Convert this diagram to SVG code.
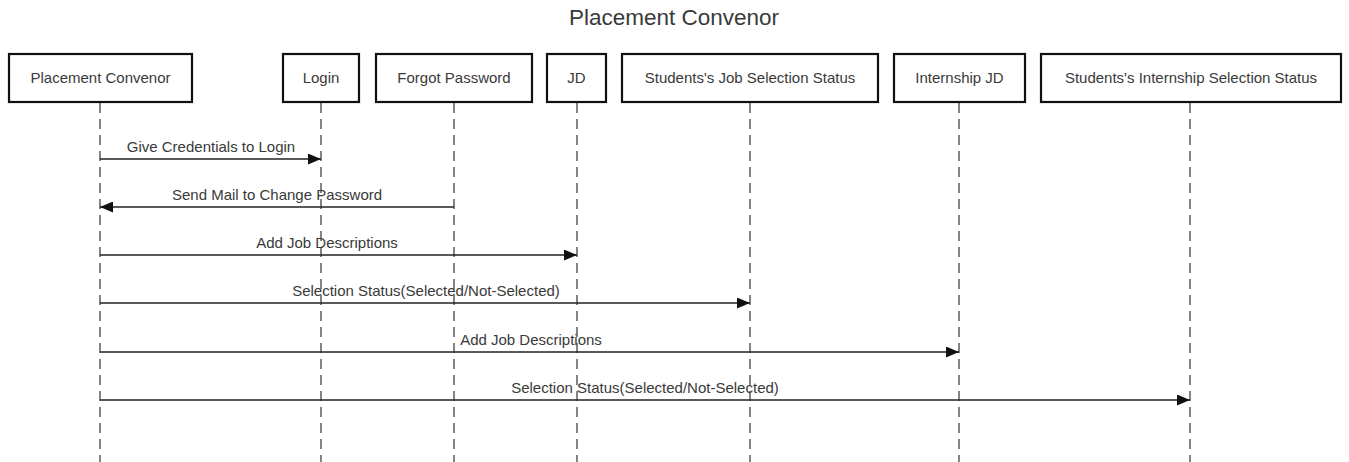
<svg xmlns="http://www.w3.org/2000/svg" width="1349" height="462" viewBox="0 0 1349 462">
<style>
.box{fill:#fff;stroke:#111;stroke-width:2.2}
.lbl{font-family:"Liberation Sans",Arial,sans-serif;font-size:15px;fill:#3a3a3a;text-anchor:middle}
.life{stroke:#444;stroke-width:1.3;stroke-dasharray:10,6;fill:none}
.msg{stroke:#222;stroke-width:1.4;fill:none;marker-end:url(#ah)}
</style>
<defs>
<marker id="ah" viewBox="0 0 13 11" refX="13" refY="5.5" markerWidth="13" markerHeight="11" markerUnits="userSpaceOnUse" orient="auto">
<path d="M0,0 L13,5.5 L0,11 Z" fill="#111"/>
</marker>
</defs>
<rect width="1349" height="462" fill="#fff"/>
<text x="674" y="25" class="lbl" style="font-size:22.5px">Placement Convenor</text>
<g id="lifelines">
<line class="life" x1="100" y1="103" x2="100" y2="462"/>
<line class="life" x1="321" y1="103" x2="321" y2="462"/>
<line class="life" x1="454" y1="103" x2="454" y2="462"/>
<line class="life" x1="577" y1="103" x2="577" y2="462"/>
<line class="life" x1="750" y1="103" x2="750" y2="462"/>
<line class="life" x1="959" y1="103" x2="959" y2="462"/>
<line class="life" x1="1190" y1="103" x2="1190" y2="462"/>
</g>
<g id="n-convenor"><rect class="box" x="9" y="54" width="183" height="48"/><text class="lbl" x="100.5" y="83">Placement Convenor</text></g>
<g id="n-login"><rect class="box" x="283" y="54" width="76" height="48"/><text class="lbl" x="321" y="83">Login</text></g>
<g id="n-forgot"><rect class="box" x="376" y="54" width="156" height="48"/><text class="lbl" x="454" y="83">Forgot Password</text></g>
<g id="n-jd"><rect class="box" x="547" y="54" width="59" height="48"/><text class="lbl" x="576.5" y="83">JD</text></g>
<g id="n-jobstatus"><rect class="box" x="622" y="54" width="256" height="48"/><text class="lbl" x="750" y="83">Students's Job Selection Status</text></g>
<g id="n-ijd"><rect class="box" x="894" y="54" width="131" height="48"/><text class="lbl" x="959.5" y="83">Internship JD</text></g>
<g id="n-istatus"><rect class="box" x="1041" y="54" width="300" height="48"/><text class="lbl" x="1191" y="83">Students's Internship Selection Status</text></g>
<g id="connectors">
<line class="msg" x1="100" y1="159" x2="321" y2="159"/>
<text class="lbl" x="211" y="152">Give Credentials to Login</text>
<line class="msg" x1="454" y1="207" x2="100" y2="207"/>
<text class="lbl" x="277" y="200">Send Mail to Change Password</text>
<line class="msg" x1="100" y1="255" x2="577" y2="255"/>
<text class="lbl" x="327" y="248">Add Job Descriptions</text>
<line class="msg" x1="100" y1="303" x2="750" y2="303"/>
<text class="lbl" x="426" y="296">Selection Status(Selected/Not-Selected)</text>
<line class="msg" x1="100" y1="352" x2="959" y2="352"/>
<text class="lbl" x="531" y="345">Add Job Descriptions</text>
<line class="msg" x1="100" y1="400" x2="1190" y2="400"/>
<text class="lbl" x="645" y="393">Selection Status(Selected/Not-Selected)</text>
</g>
</svg>
